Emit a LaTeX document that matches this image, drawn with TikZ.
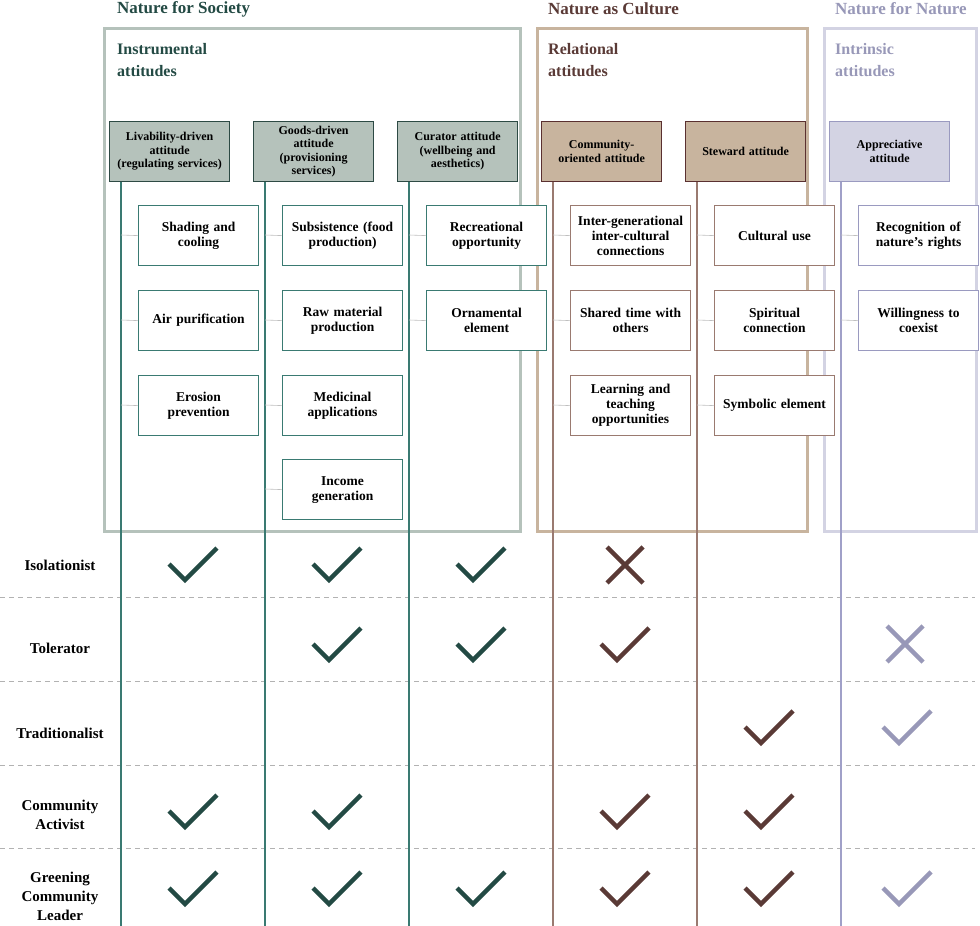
\documentclass[tikz,border=0pt]{standalone}
\usepackage{fontspec}
\setmainfont{Liberation Serif}
\hyphenpenalty=10000 \exhyphenpenalty=10000
\begin{document}
\begin{tikzpicture}[x=1pt,y=-1pt,
  every node/.style={font=\bfseries\fontsize{13.5}{15}\selectfont,align=center,inner sep=1pt},
  att/.style={draw,line width=1.2pt,minimum width=120pt,minimum height=60pt,anchor=north west,text width=116pt,font=\bfseries\fontsize{12}{13.5}\selectfont},
  item/.style={draw,fill=white,line width=1.2pt,minimum width=120pt,minimum height=60pt,anchor=north west,text width=112pt},
  frame/.style={line width=3pt},
  ttl/.style={font=\bfseries\fontsize{17}{20}\selectfont,anchor=west,align=left},
  conn/.style={draw=black!25,line width=0.6pt},
  chk/.style={line width=4.5pt,line cap=butt,line join=miter},
  rowlab/.style={font=\bfseries\fontsize{15}{19}\selectfont}]
\definecolor{gA}{HTML}{B5C2BB}\definecolor{gB}{HTML}{2D4A44}\definecolor{gL}{HTML}{3A7A72}\definecolor{gC}{HTML}{234A44}
\definecolor{bA}{HTML}{C8B49E}\definecolor{bB}{HTML}{5A3030}\definecolor{bL}{HTML}{9A7A70}\definecolor{bC}{HTML}{5A3A36}
\definecolor{lA}{HTML}{D3D3E3}\definecolor{lB}{HTML}{9A9AC0}\definecolor{lL}{HTML}{A0A0C8}\definecolor{lC}{HTML}{9898B8}
\useasboundingbox[fill=white] (0,0) rectangle (980,926);
% frames
\draw[frame,draw=gA] (104,28) rectangle (520,531);
\draw[frame,draw=bA] (537,28) rectangle (807,531);
\draw[frame,draw=lA] (824,28) rectangle (976,531);
\node[ttl,text=gC] (t1) at (116,9) {Nature for Society};
\node[ttl,text=bC] (t2) at (547,9) {Nature as Culture};
\node[ttl,text=lC] (t3) at (834,9) {Nature for Nature};
\node[ttl,text=gC,font=\bfseries\fontsize{16}{22}\selectfont] (s1) at (116,60) {Instrumental\\attitudes};
\node[ttl,text=bC,font=\bfseries\fontsize{16}{22}\selectfont] (s2) at (547,60) {Relational\\attitudes};
\node[ttl,text=lC,font=\bfseries\fontsize{16}{22}\selectfont] (s3) at (834,60) {Intrinsic\\attitudes};
% separators
\foreach \y in {597,681,765,848} \draw[black!30,line width=0.8pt,dash pattern=on 5pt off 4pt] (0,\y) -- (975,\y);
% attitude boxes
\node[att,fill=gA,draw=gB] (a1) at (109,121) {Livability-driven\\attitude\\(regulating services)};
\node[att,fill=gA,draw=gB] (a2) at (253,121) {Goods-driven\\attitude\\(provisioning\\services)};
\node[att,fill=gA,draw=gB] (a3) at (397,121) {Curator attitude\\(wellbeing and\\aesthetics)};
\node[att,fill=bA,draw=bB] (a4) at (541,121) {Community-\\oriented attitude};
\node[att,fill=bA,draw=bB] (a5) at (685,121) {Steward attitude};
\node[att,fill=lA,draw=lB] (a6) at (829,121) {Appreciative\\attitude};
% vertical lines
\foreach \n/\x/\c in {1/121/gL,2/265/gL,3/409/gL,4/553/bL,5/697/bL,6/841/lL}{
  \coordinate (e\n) at (\x,926);
  \draw[\c,line width=1.5pt] (a\n.south west -| e\n) -- (e\n);
}
% items
\newcommand\itm[6]{% name, col line x, box x, y, color, text
  \node[item,draw=#5] (#1) at (#3,#4) {#6};
  \draw[conn] (#2,#4+30) -- (#1.west);
}
\itm{i11}{121}{138}{205}{gL}{Shading and\\cooling}
\itm{i12}{121}{138}{290}{gL}{Air purification}
\itm{i13}{121}{138}{375}{gL}{Erosion\\prevention}
\itm{i21}{265}{282}{205}{gL}{Subsistence (food\\production)}
\itm{i22}{265}{282}{290}{gL}{Raw material\\production}
\itm{i23}{265}{282}{375}{gL}{Medicinal\\applications}
\itm{i24}{265}{282}{459}{gL}{Income\\generation}
\itm{i31}{409}{426}{205}{gL}{Recreational\\opportunity}
\itm{i32}{409}{426}{290}{gL}{Ornamental\\element}
\itm{i41}{553}{570}{205}{bL}{Inter-generational\\inter-cultural\\connections}
\itm{i42}{553}{570}{290}{bL}{Shared time with\\others}
\itm{i43}{553}{570}{375}{bL}{Learning and\\teaching\\opportunities}
\itm{i51}{697}{714}{205}{bL}{Cultural use}
\itm{i52}{697}{714}{290}{bL}{Spiritual\\connection}
\itm{i53}{697}{714}{375}{bL}{Symbolic element}
\itm{i61}{841}{858}{205}{lB}{Recognition of\\nature's rights}
\itm{i62}{841}{858}{290}{lB}{Willingness to\\coexist}
% row labels
\node[rowlab] (r1) at (60,565) {Isolationist};
\node[rowlab] (r2) at (60,648) {Tolerator};
\node[rowlab] (r3) at (60,733) {Traditionalist};
\node[rowlab] (r4) at (60,815) {Community\\Activist};
\node[rowlab] (r5) at (60,896) {Greening\\Community\\Leader};
% marks
\newcommand\ck[3]{\draw[chk,#3] (#1-24,#2-2) -- (#1-8,#2+14) -- (#1+24,#2-18);}
\newcommand\xx[3]{\draw[chk,#3] (#1-18,#2-18) -- (#1+18,#2+18) (#1-18,#2+18) -- (#1+18,#2-18);}
\ck{193}{566}{gC}\ck{337}{566}{gC}\ck{481}{566}{gC}\xx{625}{565}{bC}
\ck{337}{646}{gC}\ck{481}{646}{gC}\ck{625}{646}{bC}\xx{905}{644}{lC}
\ck{769}{729}{bC}\ck{907}{729}{lC}
\ck{193}{813}{gC}\ck{337}{813}{gC}\ck{625}{813}{bC}\ck{769}{813}{bC}
\ck{193}{890}{gC}\ck{337}{890}{gC}\ck{481}{890}{gC}\ck{625}{890}{bC}\ck{769}{890}{bC}\ck{907}{890}{lC}
\end{tikzpicture}
\end{document}
